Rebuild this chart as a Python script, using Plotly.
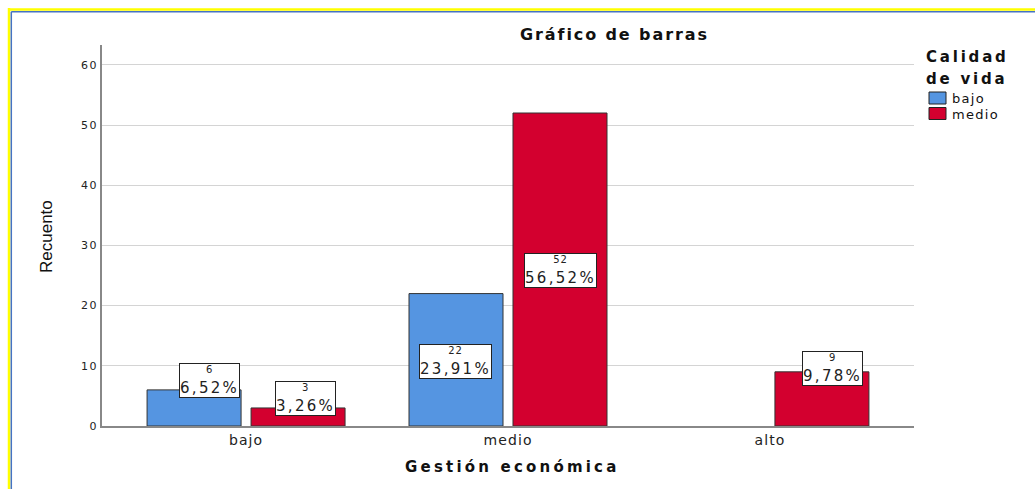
import plotly.graph_objects as go

categories = ["bajo", "medio", "alto"]
series_names = ["bajo", "medio"]
bajo_counts = [6, 22, None]
medio_counts = [3, 52, 9]
bajo_pct = ["6,52%", "23,91%", None]
medio_pct = ["3,26%", "56,52%", "9,78%"]
y_ticks = [0, 10, 20, 30, 40, 50, 60]

colors = {"bajo": "#5595e1", "medio": "#d3002f"}
FONT = "DejaVu Sans, Liberation Sans, Arial, sans-serif"
FONT_Y = "Liberation Sans, Arial, sans-serif"

# plot-area pixel geometry (for converting reference pixels to paper coords)
L, R, T, B = 102, 914, 45, 426
W, H = 1035, 489
def px(x):
    return (x - L) / (R - L)
def py(y):
    return (B - y) / (B - T)

def sp(text, ls):
    return f"<span style='letter-spacing:{ls}px'>{text}</span>"

fig = go.Figure()
for name, vals in zip(series_names, [bajo_counts, medio_counts]):
    fig.add_trace(go.Bar(
        x=list(range(len(categories))), y=vals, name=name,
        marker=dict(color=colors[name], line=dict(color="#333333", width=1)),
        showlegend=False,
    ))

# data label box placement (layout only)
label_x = {"bajo": [-0.14, -0.20, None], "medio": [0.225, 0.20, 0.24]}
label_y = {"bajo": [7.6, 10.8, None], "medio": [4.5, 25.8, 9.6]}
annotations = []
for name, vals, pcts in [("bajo", bajo_counts, bajo_pct), ("medio", medio_counts, medio_pct)]:
    for i, (v, p) in enumerate(zip(vals, pcts)):
        if v is None:
            continue
        annotations.append(dict(
            x=i + label_x[name][i], y=label_y[name][i], xref="x", yref="y",
            xanchor="center", yanchor="middle",
            text=f"<span style='font-size:10px;letter-spacing:1px'>{v}</span><br>{sp(p, 2.3)}",
            showarrow=False, font=dict(family=FONT, size=15, color="#222222"),
            bgcolor="white", bordercolor="#222222", borderwidth=1, borderpad=0,
            align="center",
        ))

# title and axis titles
annotations.append(dict(x=px(614), y=py(35), xref="paper", yref="paper", xanchor="center", yanchor="middle",
                        text="<b>" + sp("Gráfico de barras", 1.9) + "</b>",
                        showarrow=False, font=dict(family=FONT, size=16, color="#111111")))
annotations.append(dict(x=px(512), y=py(467), xref="paper", yref="paper", xanchor="center", yanchor="middle",
                        text="<b>" + sp("Gestión económica", 3.2) + "</b>",
                        showarrow=False, font=dict(family=FONT, size=15, color="#111111")))
annotations.append(dict(x=px(46), y=py(237), xref="paper", yref="paper", xanchor="center", yanchor="middle",
                        text="Recuento", textangle=-90,
                        showarrow=False, font=dict(family=FONT_Y, size=17, color="#111111")))

# legend (manual)
annotations.append(dict(x=px(924), y=py(67.5), xref="paper", yref="paper", xanchor="left", yanchor="bottom",
                        text="<b>" + sp("Calidad", 2.8) + "</b>", align="left", showarrow=False,
                        font=dict(family=FONT, size=15, color="#111111")))
annotations.append(dict(x=px(924), y=py(67.5), xref="paper", yref="paper", xanchor="left", yanchor="top",
                        text="<b>" + sp("de vida", 2.8) + "</b>", align="left", showarrow=False,
                        font=dict(family=FONT, size=15, color="#111111")))
shapes = []
for k, name in enumerate(series_names):
    yc = 98 + 15.5 * k
    shapes.append(dict(type="rect", xref="paper", yref="paper",
                       x0=px(929), x1=px(946), y0=py(yc - 6), y1=py(yc + 6),
                       fillcolor=colors[name], line=dict(color="#222222", width=1)))
    annotations.append(dict(x=px(950), y=py(yc + 1), xref="paper", yref="paper", xanchor="left", yanchor="middle",
                            text=sp(name, 1.3), showarrow=False,
                            font=dict(family=FONT, size=13, color="#111111")))

# outer frame (yellow + blue on top and left)
shapes.append(dict(type="line", xref="paper", yref="paper", x0=px(8), x1=px(W + 5), y0=py(9.5), y1=py(9.5),
                   line=dict(color="#ffff00", width=2.5)))
shapes.append(dict(type="line", xref="paper", yref="paper", x0=px(9), x1=px(9), y0=py(8), y1=py(H + 5),
                   line=dict(color="#ffff00", width=2.5)))
shapes.append(dict(type="line", xref="paper", yref="paper", x0=px(11.3), x1=px(W + 5), y0=py(11.8), y1=py(11.8),
                   line=dict(color="#4472c4", width=1.5)))
shapes.append(dict(type="line", xref="paper", yref="paper", x0=px(11.3), x1=px(11.3), y0=py(11.8), y1=py(H + 5),
                   line=dict(color="#4472c4", width=1.5)))

fig.update_layout(
    width=W, height=H,
    margin=dict(l=L, r=W - R, t=T, b=H - B),
    paper_bgcolor="white", plot_bgcolor="white",
    barmode="group", bargap=0.206, bargroupgap=0.096,
    annotations=annotations, shapes=shapes,
    font=dict(family=FONT, color="#222222"),
)
fig.update_xaxes(
    range=[-0.55, 2.55], tickmode="array", tickvals=list(range(len(categories))),
    ticktext=[sp(c, 1.1) for c in categories],
    showline=True, linecolor="#888888", linewidth=1.5, showgrid=False, ticks="",
    tickfont=dict(family=FONT, size=14, color="#222222"),
)
fig.update_yaxes(
    range=[0, 63.3], tickmode="array", tickvals=y_ticks, ticktext=[sp(str(t), 1.5) for t in y_ticks],
    showline=True, linecolor="#888888", linewidth=1.5, showgrid=True, gridcolor="#d4d4d4", gridwidth=1,
    ticks="", tickfont=dict(family=FONT, size=11, color="#222222"), zeroline=False,
)

fig.write_html("out.html", config={"displayModeBar": False},
               post_script="document.body.style.margin='0';")
